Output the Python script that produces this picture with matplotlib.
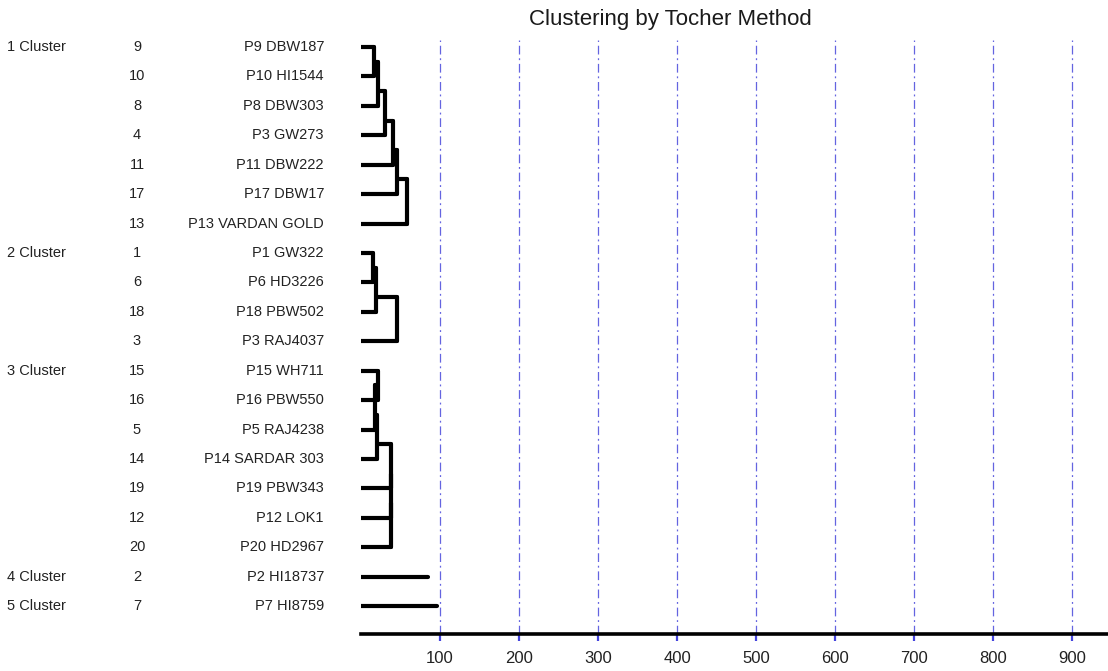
import matplotlib
matplotlib.use("Agg")
import matplotlib.pyplot as plt
import matplotlib.transforms as mtransforms

# ---------------- data ----------------
cluster_labels = ["1 Cluster", "2 Cluster", "3 Cluster", "4 Cluster", "5 Cluster"]
cluster_sizes = [7, 4, 7, 1, 1]
genotype_ids = [9, 10, 8, 4, 11, 17, 13,
                1, 6, 18, 3,
                15, 16, 5, 14, 19, 12, 20,
                2,
                7]
genotype_names = ["P9 DBW187", "P10 HI1544", "P8 DBW303", "P3 GW273", "P11 DBW222",
                  "P17 DBW17", "P13 VARDAN GOLD",
                  "P1 GW322", "P6 HD3226", "P18 PBW502", "P3 RAJ4037",
                  "P15 WH711", "P16 PBW550", "P5 RAJ4238", "P14 SARDAR 303",
                  "P19 PBW343", "P12 LOK1", "P20 HD2967",
                  "P2 HI18737",
                  "P7 HI8759"]
# successive joining distances inside each cluster (single member: its own bar)
merge_heights = [
    [16, 21, 30, 40, 45, 58],
    [15, 19, 45],
    [22, 18, 20, 38, 38, 38],
    [85],
    [96],
]
x_ticks = [100, 200, 300, 400, 500, 600, 700, 800, 900]
title = "Clustering by Tocher Method"

# ---------------- figure ----------------
W, H = 1108, 671
fig = plt.figure(figsize=(W / 100, H / 100), dpi=100)
ax = fig.add_axes([361 / W, 1 - 634 / H, 1 - 361 / W, (634 - 40) / H])
ax.set_xlim(0, (W - 361) / 0.79)
ax.set_ylim(19.95, -0.24)

lw = 3.0
kw = dict(color="black", lw=lw, solid_capstyle="round", zorder=3)

start = 0
for size, hs in zip(cluster_sizes, merge_heights):
    s = start
    if size == 1:
        ax.plot([0, hs[0]], [s, s], **kw)
    else:
        ax.plot([0, hs[0]], [s, s], **kw)
        ax.plot([0, hs[0]], [s + 1, s + 1], **kw)
        ax.plot([hs[0], hs[0]], [s, s + 1], **kw)
        node_y = s + 0.5
        node_x = hs[0]
        for k in range(2, size):
            hk = hs[k - 1]
            leaf_y = s + k
            ax.plot([0, hk], [leaf_y, leaf_y], **kw)
            ax.plot([node_x, hk], [node_y, node_y], **kw)
            ax.plot([hk, hk], [node_y, leaf_y], **kw)
            node_y = (node_y + 2 * leaf_y) / 3
            node_x = hk
    start += size

# grid and axis
for t in x_ticks:
    ax.axvline(t, color="#6464e0", lw=0.9, ls=(0, (7, 3, 1.5, 3)), zorder=1)
ax.set_xticks(x_ticks)
ax.set_yticks([])
for side in ["top", "left", "right"]:
    ax.spines[side].set_visible(False)
ax.spines["bottom"].set_linewidth(2.6)
ax.spines["bottom"].set_color("black")
ax.tick_params(axis="x", length=5, width=1.6, color="#4444dd", pad=7,
               labelsize=12, labelcolor="#222222")
for lab in ax.get_xticklabels():
    lab.set_family(["Liberation Sans", "DejaVu Sans"])
ax.set_facecolor("none")

# left labels
tr = mtransforms.blended_transform_factory(fig.transFigure, ax.transData)
narrow = ["Liberation Sans Narrow", "Liberation Sans", "DejaVu Sans"]
row = 0
for lab, size in zip(cluster_labels, cluster_sizes):
    ax.text(7 / W, row, lab, transform=tr, ha="left", va="center",
            fontsize=10.5, family=narrow, color="#222222", clip_on=False)
    row += size
for i, (gid, name) in enumerate(zip(genotype_ids, genotype_names)):
    ax.text(137 / W, i, str(gid), transform=tr, ha="center", va="center",
            fontsize=10.5, family=narrow, color="#222222", clip_on=False)
    ax.text(324 / W, i, name, transform=tr, ha="right", va="center",
            fontsize=10.5, family=narrow, color="#222222", clip_on=False)

fig.text(670 / W, 1 - 19 / H, title, ha="center", va="center", fontsize=16,
         family=["Liberation Sans", "DejaVu Sans"], color="#1a1a1a")

fig.savefig("out.png", dpi=100)
